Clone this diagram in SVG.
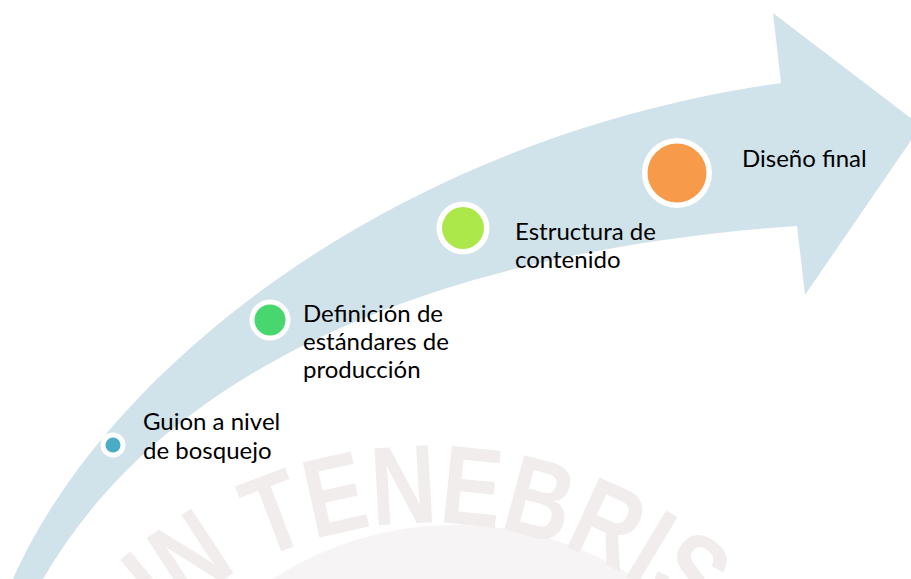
<svg xmlns="http://www.w3.org/2000/svg" width="911" height="579" viewBox="0 0 911 579">
  <style>
    .lbl { font-family: Lato, "Open Sans", "Liberation Sans", sans-serif; font-size: 24px; fill: #000000; }
    .ring { fill: #ffffff; }
    .wm { font-family: "Liberation Sans", "DejaVu Sans", sans-serif; font-size: 112px; font-weight: bold; fill: #f1eded; }
  </style>
  <defs>
    <path id="wmArc" d="M 33 918 A 395 395 0 0 1 823 918"/>
  </defs>
  <rect x="0" y="0" width="911" height="579" fill="#ffffff"/>
  <g id="watermark">
    <circle cx="455" cy="860" r="335" fill="#f6f4f4"/>
    <text class="wm"><textPath href="#wmArc" startOffset="50%" text-anchor="middle" textLength="575" lengthAdjust="spacingAndGlyphs">IN TENEBRIS</textPath></text>
  </g>
  <g id="connectors">
    <path id="arrow" d="M 13 579 C 100 380, 380 140, 781 83 L 773 13 L 921 126 L 805 295 L 797 226 C 450 250, 170 360, 43 579 Z" fill="#d1e3ea"/>
  </g>
  <g id="node1">
    <circle class="ring" cx="113" cy="445" r="12.5"/>
    <circle cx="113" cy="445" r="7.5" fill="#4bacc6"/>
    <text class="lbl" x="143" y="430">Guion a nivel</text>
    <text class="lbl" x="143" y="459">de bosquejo</text>
  </g>
  <g id="node2">
    <circle class="ring" cx="270" cy="320" r="20.5"/>
    <circle cx="270" cy="320" r="15.5" fill="#48d66f"/>
    <text class="lbl" x="303" y="322">Definición de</text>
    <text class="lbl" x="303" y="350">estándares de</text>
    <text class="lbl" x="303" y="378">producción</text>
  </g>
  <g id="node3">
    <circle class="ring" cx="463" cy="228" r="26.5"/>
    <circle cx="463" cy="228" r="21" fill="#ade84a"/>
    <text class="lbl" x="515" y="240">Estructura de</text>
    <text class="lbl" x="515" y="268">contenido</text>
  </g>
  <g id="node4">
    <circle class="ring" cx="677" cy="173" r="35"/>
    <circle cx="677" cy="173" r="29.5" fill="#f79a4a"/>
    <text class="lbl" x="742" y="167">Diseño final</text>
  </g>
</svg>
